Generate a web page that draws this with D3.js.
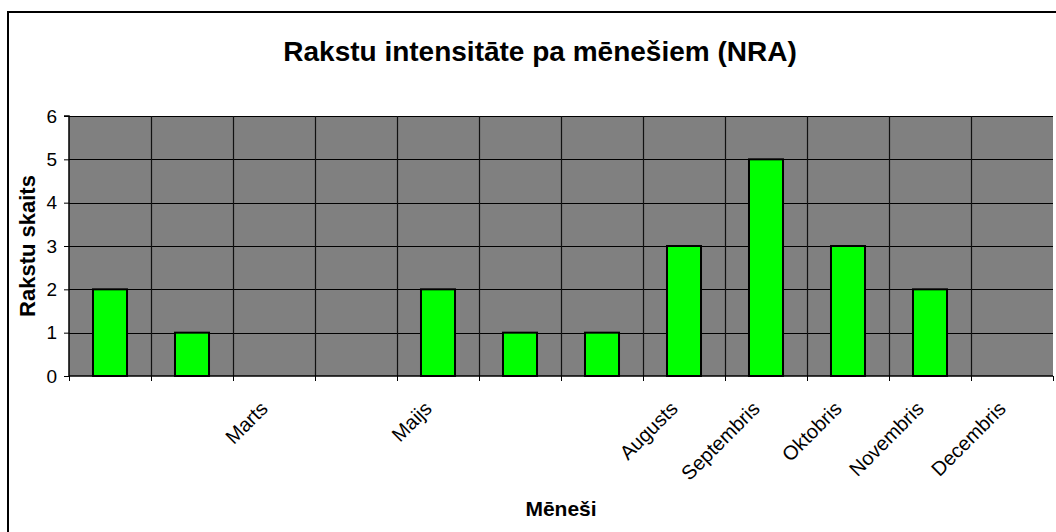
<!DOCTYPE html>
<html>
<head>
<meta charset="utf-8">
<script src="https://cdn.jsdelivr.net/npm/d3@7"></script>
<style>
  html, body { margin: 0; padding: 0; background: #fff; }
  svg { display: block; }
  text { font-family: "Liberation Sans", Arial, sans-serif; fill: #000; }
</style>
</head>
<body>
<svg id="chart" width="1056" height="532"></svg>
<script>
// ---- data ----
const months = ["", "", "Marts", "", "Maijs", "", "", "Augusts", "Septembris", "Oktobris", "Novembris", "Decembris"];
const monthKeys = ["m1","m2","m3","m4","m5","m6","m7","m8","m9","m10","m11","m12"];
const counts = [2, 1, 0, 0, 2, 1, 1, 3, 5, 3, 2, 0];
const yTicks = [0, 1, 2, 3, 4, 5, 6];
const titleText = "Rakstu intensitāte pa mēnešiem (NRA)";
const xTitle = "Mēneši";
const yTitle = "Rakstu skaits";

// ---- layout ----
const W = 1056, H = 532;
const plot = { left: 69, right: 1053, top: 116, bottom: 376 };

const svg = d3.select("#chart");

// outer chart frame (extends beyond the visible window on right/bottom)
svg.append("rect")
  .attr("x", 8).attr("y", 12)
  .attr("width", 1100).attr("height", 600)
  .attr("fill", "#fff").attr("stroke", "#000").attr("stroke-width", 2);

const x = d3.scaleBand().domain(monthKeys).range([plot.left, plot.right]).padding(0);
const y = d3.scaleLinear().domain([0, 6]).range([plot.bottom, plot.top]);

// plot background
svg.append("rect")
  .attr("x", plot.left).attr("y", plot.top)
  .attr("width", plot.right - plot.left).attr("height", plot.bottom - plot.top)
  .attr("fill", "#808080");

// horizontal gridlines
svg.append("g").selectAll("line").data(yTicks.slice(1)).join("line")
  .attr("x1", plot.left).attr("x2", plot.right)
  .attr("y1", d => Math.round(y(d)) + 0.5).attr("y2", d => Math.round(y(d)) + 0.5)
  .attr("stroke", "#000").attr("stroke-width", 1);

// vertical gridlines at category boundaries
const boundaries = monthKeys.slice(1).map(k => x(k));
svg.append("g").selectAll("line").data(boundaries).join("line")
  .attr("x1", d => Math.round(d) + 0.5).attr("x2", d => Math.round(d) + 0.5)
  .attr("y1", plot.top).attr("y2", plot.bottom)
  .attr("stroke", "#111").attr("stroke-width", 1.2);

// bars
const barW = x.bandwidth() * 0.415;
svg.append("g").selectAll("rect").data(counts.map((v, i) => ({ k: monthKeys[i], v })).filter(d => d.v > 0))
  .join("rect")
  .attr("x", d => x(d.k) + (x.bandwidth() - barW) / 2)
  .attr("y", d => y(d.v))
  .attr("width", barW)
  .attr("height", d => y(0) - y(d.v))
  .attr("fill", "#00ff00")
  .attr("stroke", "#000").attr("stroke-width", 2);

// y axis
const yAxis = d3.axisLeft(y).tickValues(yTicks).tickSize(5).tickPadding(7).tickFormat(d3.format("d"));
const gy = svg.append("g").attr("transform", `translate(${plot.left},0)`).call(yAxis);
gy.select(".domain").attr("stroke", "#000").attr("stroke-width", 1.5).attr("d", `M-5,${plot.top}H0V${plot.bottom}`);
gy.selectAll(".tick line").attr("stroke", "#000");
gy.selectAll(".tick text").attr("font-size", 19).attr("font-family", "Liberation Sans, Arial, sans-serif").attr("fill", "#000");

// x axis: ticks at category boundaries
const xb = d3.scaleLinear().domain([0, 12]).range([plot.left, plot.right]);
const xAxis = d3.axisBottom(xb).tickValues(d3.range(0, 13)).tickSize(5).tickFormat("");
const gx = svg.append("g").attr("transform", `translate(0,${plot.bottom})`).call(xAxis);
gx.select(".domain").attr("stroke", "#000").attr("stroke-width", 1.5).attr("d", `M${plot.left},0H${plot.right}`);
gx.selectAll(".tick line").attr("stroke", "#000");

// rotated category labels
svg.append("g").selectAll("text").data(monthKeys.map((k, i) => ({ k, label: months[i] })))
  .join("text")
  .attr("transform", d => `translate(${x(d.k) + x.bandwidth() / 2 - 5},${plot.bottom + 34}) rotate(-45)`)
  .attr("text-anchor", "end")
  .attr("font-size", 20)
  .text(d => d.label);

// titles
svg.append("text")
  .attr("x", 540).attr("y", 61)
  .attr("text-anchor", "middle")
  .attr("font-size", 28).attr("font-weight", "bold")
  .text(titleText);

svg.append("text")
  .attr("x", (plot.left + plot.right) / 2).attr("y", 516)
  .attr("text-anchor", "middle")
  .attr("font-size", 21).attr("font-weight", "bold")
  .text(xTitle);

svg.append("text")
  .attr("transform", `translate(35,${(plot.top + plot.bottom) / 2}) rotate(-90)`)
  .attr("text-anchor", "middle")
  .attr("font-size", 22).attr("font-weight", "bold")
  .text(yTitle);
</script>
</body>
</html>
